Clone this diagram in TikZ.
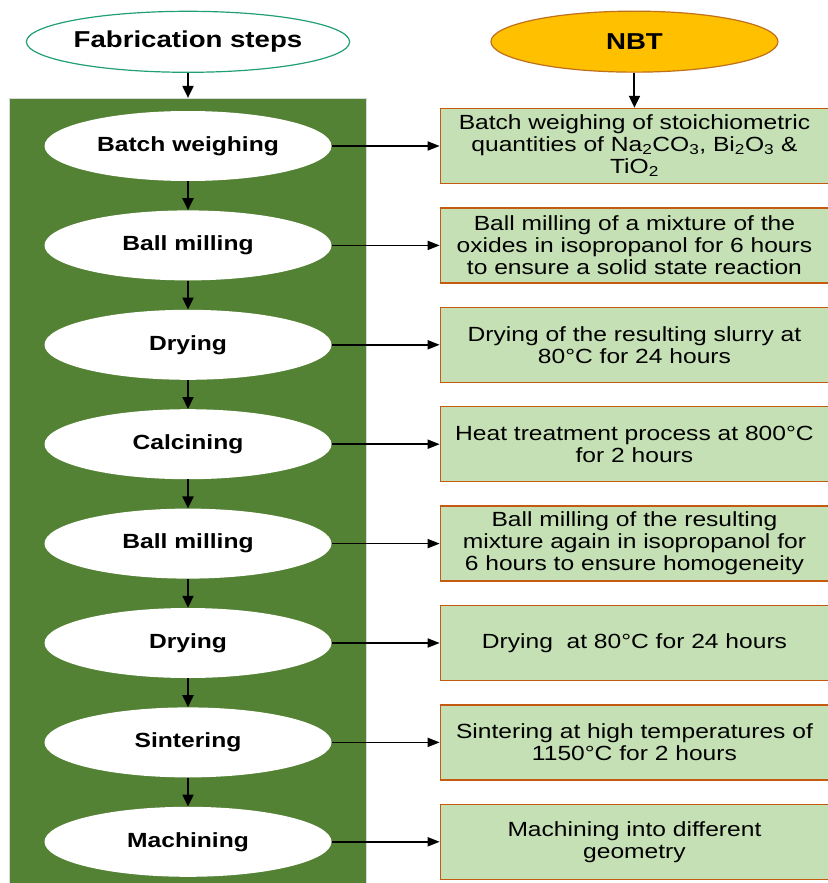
\documentclass[tikz,border=0pt]{standalone}
\usepackage{fontspec}
\setmainfont{Liberation Sans}[FakeStretch=1.2]
\usetikzlibrary{positioning,arrows.meta,fit,shapes.geometric,backgrounds}
\definecolor{panelgreen}{HTML}{548235}
\definecolor{boxgreen}{HTML}{C5E0B4}
\definecolor{boxedge}{HTML}{C55A11}
\definecolor{nbtfill}{HTML}{FFC000}
\definecolor{nbtedge}{HTML}{C0701A}
\definecolor{fabedge}{HTML}{20A070}

\begin{document}
\begin{tikzpicture}[x=1pt,y=-1pt,
		stepnode/.style={ellipse,fill=white,minimum width=287pt,minimum height=70pt,inner sep=0pt,font=\fontsize{20.5}{22}\selectfont\bfseries},
		head/.style={ellipse,minimum width=287pt,minimum height=61pt,inner sep=0pt,line width=1.2pt,font=\fontsize{23}{25}\selectfont\bfseries},
		box/.style={draw=boxedge,line width=1.5pt,fill=boxgreen,minimum width=388pt,minimum height=75pt,align=center,inner sep=0pt,font=\fontsize{20.5}{22}\selectfont},
		down/.style={-{Triangle[length=12pt,width=11pt]},line width=2pt},
		ar/.style={-{Triangle[length=12pt,width=9pt]},line width=1.6pt}
		]
		\useasboundingbox (0,0) rectangle (827,883);

		% process steps
		\node[stepnode] (e1) at (188,146) {Batch weighing};
		\node[stepnode,below=29pt of e1] (e2) {Ball milling};
		\node[stepnode,below=29pt of e2] (e3) {Drying};
		\node[stepnode,below=29pt of e3] (e4) {Calcining};
		\node[stepnode,below=29pt of e4] (e5) {Ball milling};
		\node[stepnode,below=29pt of e5] (e6) {Drying};
		\node[stepnode,below=29pt of e6] (e7) {Sintering};
		\node[stepnode,below=29pt of e7] (e8) {Machining};

		\begin{scope}[on background layer]
			\fill[white] (0,0) rectangle (827,883);
			\node[fill=panelgreen,draw=black!15,line width=0.8pt,inner xsep=35pt,inner ysep=12.5pt,fit=(e1)(e8)] (panel) {};
		\end{scope}

		\node[head,draw=fabedge,fill=white,above=25pt of panel] (fab) {Fabrication steps};

		% NBT details
		\node[box,right=108pt of e1] (b1) {Batch weighing of stoichiometric\\quantities of Na\textsubscript{2}CO\textsubscript{3}, Bi\textsubscript{2}O\textsubscript{3} \&\\TiO\textsubscript{2}};
		\node[box,right=108pt of e2] (b2) {Ball milling of a mixture of the\\oxides in isopropanol for 6 hours\\to ensure a solid state reaction};
		\node[box,right=108pt of e3] (b3) {Drying of the resulting slurry at\\80°C for 24 hours};
		\node[box,right=108pt of e4] (b4) {Heat treatment process at 800°C\\for 2 hours};
		\node[box,right=108pt of e5] (b5) {Ball milling of the resulting\\mixture again in isopropanol for\\6 hours to ensure homogeneity};
		\node[box,right=108pt of e6] (b6) {Drying\ \ at 80°C for 24 hours};
		\node[box,right=108pt of e7] (b7) {Sintering at high temperatures of\\1150°C for 2 hours};
		\node[box,right=108pt of e8] (b8) {Machining into different\\geometry};

		\node[head,draw=nbtedge,fill=nbtfill,above=35pt of b1] (nbt) {NBT};

		\draw[down] (fab) -- (panel);
		\draw[down] (nbt) -- (b1);
		\foreach \a/\b in {e1/e2,e2/e3,e3/e4,e4/e5,e5/e6,e6/e7,e7/e8}
			\draw[down] (\a) -- (\b);
		\foreach \i in {1,...,8}
			\draw[ar] (e\i) -- (b\i);

	\end{tikzpicture}
\end{document}
